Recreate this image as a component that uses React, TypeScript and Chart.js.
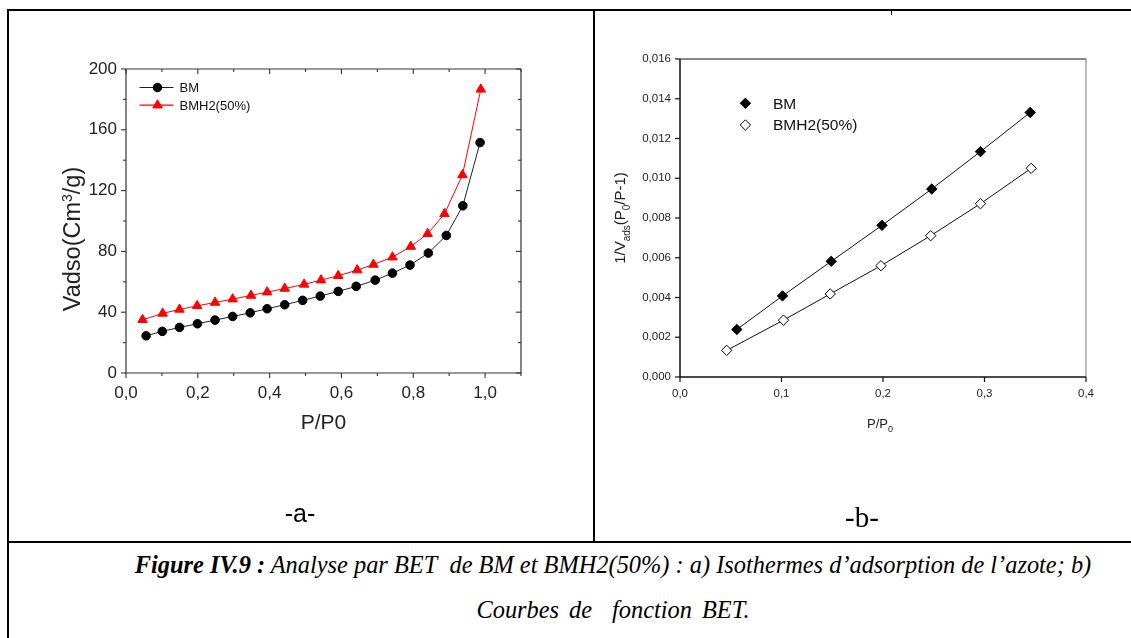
import React, { useEffect, useRef } from 'react';
import { Chart, registerables } from 'chart.js';

Chart.register(...registerables);

const SANS = '"Liberation Sans", Arial, Helvetica, sans-serif';
const SERIF = '"Liberation Serif", "Times New Roman", Times, serif';

// ---------- Panel (a): N2 adsorption isotherms ----------
const isoBM_P = [0.056, 0.101, 0.149, 0.199, 0.248, 0.297, 0.346, 0.393, 0.442, 0.492, 0.541, 0.591, 0.641, 0.694, 0.742, 0.791, 0.842, 0.892, 0.938, 0.986];
const isoBM_V = [24.5, 27.4, 30.0, 32.4, 34.8, 37.2, 39.6, 42.3, 44.9, 47.8, 50.6, 53.7, 57.0, 61.1, 65.7, 71.0, 78.9, 90.5, 110.0, 151.6];
const isoH2_P = [0.046, 0.102, 0.149, 0.198, 0.248, 0.297, 0.348, 0.393, 0.442, 0.496, 0.543, 0.591, 0.644, 0.689, 0.742, 0.793, 0.840, 0.887, 0.937, 0.988];
const isoH2_V = [35.0, 39.2, 41.8, 44.2, 46.4, 48.6, 51.0, 53.2, 55.6, 58.3, 61.1, 64.0, 67.7, 71.4, 76.2, 83.2, 91.6, 104.7, 130.3, 186.6];
const isoXTicks = [0, 0.2, 0.4, 0.6, 0.8, 1.0];
const isoXMinor = [0.1, 0.3, 0.5, 0.7, 0.9, 1.1];
const isoYTicks = [0, 40, 80, 120, 160, 200];
const isoYMinor = [20, 60, 100, 140, 180];
const isoLabels = ['BM', 'BMH2(50%)'];

// ---------- Panel (b): BET transform ----------
const betBM_P = [0.056, 0.101, 0.149, 0.199, 0.248, 0.296, 0.345];
const betBM_Y = [0.00239, 0.00408, 0.00582, 0.00763, 0.00946, 0.01134, 0.01331];
const betH2_P = [0.046, 0.102, 0.148, 0.198, 0.247, 0.296, 0.346];
const betH2_Y = [0.00134, 0.00286, 0.00418, 0.0056, 0.00711, 0.00872, 0.0105];
const betXTicks = [0, 0.1, 0.2, 0.3, 0.4];
const betYTicks = [0, 0.002, 0.004, 0.006, 0.008, 0.01, 0.012, 0.014, 0.016];
const betLabels = ['BM', 'BMH2(50%)'];

const fmt = (d: number) => (v: any) => Number(v).toFixed(d).replace('.', ',');
const pts = (xs: number[], ys: number[]) => xs.map((x, i) => ({ x, y: ys[i] }));

type Side = 'top' | 'bottom' | 'left' | 'right';
interface TickSpec { side: Side; values: number[]; len: number; out: boolean; }
interface Edge { color: string; width: number; }

function makeFramePlugin(id: string, edges: Record<Side, Edge>, ticks: TickSpec[], tickColor: string, tickWidth: number) {
  return {
    id,
    beforeDatasetsDraw(chart: any) {
      const { ctx, chartArea: a, scales } = chart;
      ctx.save();
      const seg = (x1: number, y1: number, x2: number, y2: number, color: string, w: number) => {
        ctx.beginPath();
        ctx.strokeStyle = color;
        ctx.lineWidth = w;
        ctx.moveTo(x1, y1);
        ctx.lineTo(x2, y2);
        ctx.stroke();
      };
      ticks.forEach((t) => {
        const horiz = t.side === 'top' || t.side === 'bottom';
        const scale = horiz ? scales.x : scales.y;
        t.values.forEach((v) => {
          const p = scale.getPixelForValue(v);
          if (t.side === 'bottom') seg(p, a.bottom, p, a.bottom + (t.out ? t.len : -t.len), tickColor, tickWidth);
          if (t.side === 'top') seg(p, a.top, p, a.top + (t.out ? -t.len : t.len), tickColor, tickWidth);
          if (t.side === 'left') seg(a.left, p, a.left + (t.out ? -t.len : t.len), p, tickColor, tickWidth);
          if (t.side === 'right') seg(a.right, p, a.right + (t.out ? t.len : -t.len), p, tickColor, tickWidth);
        });
      });
      seg(a.left, a.top, a.right, a.top, edges.top.color, edges.top.width);
      seg(a.right, a.top, a.right, a.bottom, edges.right.color, edges.right.width);
      seg(a.left, a.bottom, a.right, a.bottom, edges.bottom.color, edges.bottom.width);
      seg(a.left, a.top, a.left, a.bottom, edges.left.color, edges.left.width);
      ctx.restore();
    },
  };
}

function drawMarker(ctx: CanvasRenderingContext2D, style: string, x: number, y: number, r: number, fill: string, stroke: string, bw: number) {
  ctx.beginPath();
  if (style === 'circle') {
    ctx.arc(x, y, r, 0, Math.PI * 2);
  } else if (style === 'triangle') {
    const c = Math.cos(Math.PI / 6) * r;
    ctx.moveTo(x, y - r);
    ctx.lineTo(x + c, y + r / 2);
    ctx.lineTo(x - c, y + r / 2);
    ctx.closePath();
  } else {
    ctx.moveTo(x, y - r);
    ctx.lineTo(x + r, y);
    ctx.lineTo(x, y + r);
    ctx.lineTo(x - r, y);
    ctx.closePath();
  }
  ctx.fillStyle = fill;
  ctx.fill();
  ctx.lineWidth = bw;
  ctx.strokeStyle = stroke;
  ctx.stroke();
}

const isoLegendPlugin = {
  id: 'isoLegend',
  afterDatasetsDraw(chart: any) {
    const { ctx, chartArea: a } = chart;
    chart.data.datasets.forEach((ds: any, i: number) => {
      const y = a.top + 18.5 + i * 17.7;
      ctx.save();
      ctx.beginPath();
      ctx.strokeStyle = ds.borderColor;
      ctx.lineWidth = 1.2;
      ctx.moveTo(a.left + 13.5, y);
      ctx.lineTo(a.left + 47.5, y);
      ctx.stroke();
      drawMarker(ctx, ds.pointStyle, a.left + 31.5, y, ds.pointRadius, ds.pointBackgroundColor, ds.pointBorderColor, 1);
      ctx.fillStyle = '#111';
      ctx.font = `13px ${SANS}`;
      ctx.textAlign = 'left';
      ctx.textBaseline = 'middle';
      ctx.fillText(ds.label, a.left + 53.5, y + 1);
      ctx.restore();
    });
  },
};

const betLegendPlugin = {
  id: 'betLegend',
  afterDatasetsDraw(chart: any) {
    const { ctx, chartArea: a } = chart;
    chart.data.datasets.forEach((ds: any, i: number) => {
      const y = a.top + 44.3 + i * 21.7;
      ctx.save();
      drawMarker(ctx, 'diamond', a.left + 65.4, y, ds.pointRadius, ds.pointBackgroundColor, ds.pointBorderColor, 1);
      ctx.fillStyle = '#111';
      ctx.font = `15.5px ${SANS}`;
      ctx.textAlign = 'left';
      ctx.textBaseline = 'middle';
      ctx.fillText(ds.label, a.left + 93, y + 1);
      ctx.restore();
    });
  },
};

interface Seg { t: string; sub?: boolean; sup?: boolean; }
function drawRich(ctx: CanvasRenderingContext2D, segs: Seg[], cx: number, cy: number, rot: number, size: number, subSize: number, color: string) {
  ctx.save();
  ctx.translate(cx, cy);
  ctx.rotate(rot);
  ctx.fillStyle = color;
  ctx.textBaseline = 'alphabetic';
  ctx.textAlign = 'left';
  const fontFor = (s: Seg) => `${s.sub || s.sup ? subSize : size}px ${SANS}`;
  let total = 0;
  segs.forEach((s) => {
    ctx.font = fontFor(s);
    total += ctx.measureText(s.t).width;
  });
  let x = -total / 2;
  const base = size * 0.36;
  segs.forEach((s) => {
    ctx.font = fontFor(s);
    const dy = s.sub ? size * 0.3 : s.sup ? -size * 0.38 : 0;
    ctx.fillText(s.t, x, base + dy);
    x += ctx.measureText(s.t).width;
  });
  ctx.restore();
}

const isoTitlePlugin = {
  id: 'isoTitle',
  afterDraw(chart: any) {
    const { ctx, chartArea: a } = chart;
    drawRich(ctx, [{ t: 'Vadso(Cm' }, { t: '3', sup: true }, { t: '/g)' }],
      a.left - 54, (a.top + a.bottom) / 2 + 18, -Math.PI / 2, 23.5, 14, '#222');
  },
};

const betTitlesPlugin = {
  id: 'betTitles',
  afterDraw(chart: any) {
    const { ctx, chartArea: a } = chart;
    drawRich(ctx, [{ t: '1/V' }, { t: 'ads', sub: true }, { t: '(P' }, { t: '0', sub: true }, { t: '/P-1)' }],
      a.left - 60, (a.top + a.bottom) / 2, -Math.PI / 2, 15, 10, '#222');
    drawRich(ctx, [{ t: 'P/P' }, { t: '0', sub: true }], (a.left + a.right) / 2 - 3, a.bottom + 46, 0, 13, 9, '#222');
  },
};

export default function App() {
  const leftRef = useRef<HTMLCanvasElement>(null);
  const rightRef = useRef<HTMLCanvasElement>(null);

  useEffect(() => {
    const isoFrame = makeFramePlugin(
      'isoFrame',
      {
        top: { color: '#333', width: 1.2 },
        right: { color: '#333', width: 1.2 },
        bottom: { color: '#333', width: 1.2 },
        left: { color: '#333', width: 1.2 },
      },
      [
        { side: 'bottom', values: isoXTicks, len: 5, out: true },
        { side: 'bottom', values: isoXMinor, len: 3, out: true },
        { side: 'top', values: isoXTicks, len: 5, out: false },
        { side: 'top', values: isoXMinor, len: 3, out: false },
        { side: 'left', values: isoYTicks, len: 5, out: true },
        { side: 'left', values: isoYMinor, len: 3, out: true },
        { side: 'right', values: isoYTicks, len: 5, out: false },
        { side: 'right', values: isoYMinor, len: 3, out: false },
      ],
      '#333',
      1.1,
    );

    const c1 = new Chart(leftRef.current as HTMLCanvasElement, {
      type: 'scatter',
      data: {
        datasets: [
          {
            label: isoLabels[0],
            data: pts(isoBM_P, isoBM_V),
            showLine: true,
            borderColor: '#222',
            borderWidth: 1,
            pointStyle: 'circle',
            pointRadius: 4.3,
            pointBackgroundColor: '#000',
            pointBorderColor: '#000',
            pointBorderWidth: 1,
          },
          {
            label: isoLabels[1],
            data: pts(isoH2_P, isoH2_V),
            showLine: true,
            borderColor: '#ff0000',
            borderWidth: 1,
            pointStyle: 'triangle',
            pointRadius: 5.5,
            pointBackgroundColor: '#ff0000',
            pointBorderColor: '#ff0000',
            pointBorderWidth: 1,
          },
        ],
      } as any,
      options: {
        animation: false,
        responsive: false,
        maintainAspectRatio: false,
        devicePixelRatio: 1,
        layout: { padding: { left: 0, top: 57, right: 71, bottom: 104 } },
        plugins: { legend: { display: false }, tooltip: { enabled: false } },
        scales: {
          x: {
            type: 'linear',
            min: 0,
            max: 1.1,
            grid: { display: false, drawTicks: false },
            border: { display: false },
            afterBuildTicks: (s: any) => { s.ticks = isoXTicks.map((v) => ({ value: v })); },
            afterFit: (s: any) => { s.height = 63; },
            ticks: { padding: 10, color: '#222', font: { family: SANS, size: 17 }, callback: fmt(1), maxRotation: 0, autoSkip: false },
            title: { display: true, text: 'P/P0', color: '#222', font: { family: SANS, size: 21 }, padding: 0 },
          },
          y: {
            type: 'linear',
            min: 0,
            max: 200,
            grid: { display: false, drawTicks: false },
            border: { display: false },
            afterBuildTicks: (s: any) => { s.ticks = isoYTicks.map((v) => ({ value: v })); },
            afterFit: (s: any) => { s.width = 116; },
            ticks: { padding: 9, color: '#222', font: { family: SANS, size: 17 }, callback: fmt(0), autoSkip: false },
          },
        },
      } as any,
      plugins: [isoFrame, isoLegendPlugin, isoTitlePlugin],
    });

    const betFrame = makeFramePlugin(
      'betFrame',
      {
        top: { color: '#111', width: 1.2 },
        right: { color: '#777', width: 1 },
        bottom: { color: '#111', width: 1.5 },
        left: { color: '#111', width: 1.5 },
      },
      [
        { side: 'bottom', values: betXTicks, len: 5, out: true },
        { side: 'left', values: betYTicks, len: 5, out: true },
      ],
      '#111',
      1.2,
    );

    const c2 = new Chart(rightRef.current as HTMLCanvasElement, {
      type: 'scatter',
      data: {
        datasets: [
          {
            label: betLabels[0],
            data: pts(betBM_P, betBM_Y),
            showLine: true,
            borderColor: '#111',
            borderWidth: 1,
            pointStyle: 'rectRot',
            pointRadius: 5.2,
            pointBackgroundColor: '#000',
            pointBorderColor: '#000',
            pointBorderWidth: 1,
          },
          {
            label: betLabels[1],
            data: pts(betH2_P, betH2_Y),
            showLine: true,
            borderColor: '#111',
            borderWidth: 1,
            pointStyle: 'rectRot',
            pointRadius: 5.2,
            pointBackgroundColor: '#fff',
            pointBorderColor: '#000',
            pointBorderWidth: 1,
          },
        ],
      } as any,
      options: {
        animation: false,
        responsive: false,
        maintainAspectRatio: false,
        devicePixelRatio: 1,
        layout: { padding: { left: 0, top: 47, right: 44, bottom: 111 } },
        plugins: { legend: { display: false }, tooltip: { enabled: false } },
        scales: {
          x: {
            type: 'linear',
            min: 0,
            max: 0.4,
            grid: { display: false, drawTicks: false },
            border: { display: false },
            afterBuildTicks: (s: any) => { s.ticks = betXTicks.map((v) => ({ value: v })); },
            afterFit: (s: any) => { s.height = 52; },
            ticks: { padding: 10, color: '#222', font: { family: SANS, size: 11.5 }, callback: fmt(1), maxRotation: 0, autoSkip: false },
          },
          y: {
            type: 'linear',
            min: 0,
            max: 0.016,
            grid: { display: false, drawTicks: false },
            border: { display: false },
            afterBuildTicks: (s: any) => { s.ticks = betYTicks.map((v) => ({ value: v })); },
            afterFit: (s: any) => { s.width = 84; },
            ticks: { padding: 9, color: '#222', font: { family: SANS, size: 11.5 }, callback: fmt(3), autoSkip: false },
          },
        },
      } as any,
      plugins: [betFrame, betLegendPlugin, betTitlesPlugin],
    });

    return () => {
      c1.destroy();
      c2.destroy();
    };
  }, []);

  const line = (l: number, t: number, w: number, h: number) => (
    <div style={{ position: 'absolute', left: l, top: t, width: w, height: h, background: '#000' }} />
  );

  const caption: React.CSSProperties = {
    position: 'absolute', left: 13, width: 1200, textAlign: 'center', fontFamily: SERIF, fontStyle: 'italic',
    fontSize: 25, lineHeight: '30px', color: '#000', whiteSpace: 'nowrap', transform: 'scaleX(0.975)', transformOrigin: '600px 50%',
  };

  return (
    <div style={{ position: 'absolute', left: 0, top: 0, width: 1131, height: 638, overflow: 'hidden', background: '#fff' }}>
      {line(7, 9, 1124, 2)}
      {line(7, 9, 2, 629)}
      {line(593, 9, 2, 533)}
      {line(7, 541, 1124, 2)}
      {line(891, 11, 1, 4)}
      <canvas ref={leftRef} width={582} height={528} style={{ position: 'absolute', left: 10, top: 12, width: 582, height: 528 }} />
      <canvas ref={rightRef} width={534} height={528} style={{ position: 'absolute', left: 596, top: 12, width: 534, height: 528 }} />
      <div style={{ position: 'absolute', left: 200, width: 200, top: 496, textAlign: 'center', fontFamily: SANS, fontSize: 25, lineHeight: '34px', color: '#000' }}>-a-</div>
      <div style={{ position: 'absolute', left: 762, width: 200, top: 500, textAlign: 'center', fontFamily: SERIF, fontSize: 29, lineHeight: '34px', color: '#000' }}>-b-</div>
      <div style={{ ...caption, top: 550 }}>
        <b>Figure IV.9 :</b> Analyse par BET&nbsp; de BM et BMH2(50%) : a) Isothermes d’adsorption de l’azote; b)
      </div>
      <div style={{ ...caption, top: 595, wordSpacing: 4 }}>
        Courbes de&nbsp; fonction BET.
      </div>
    </div>
  );
}
